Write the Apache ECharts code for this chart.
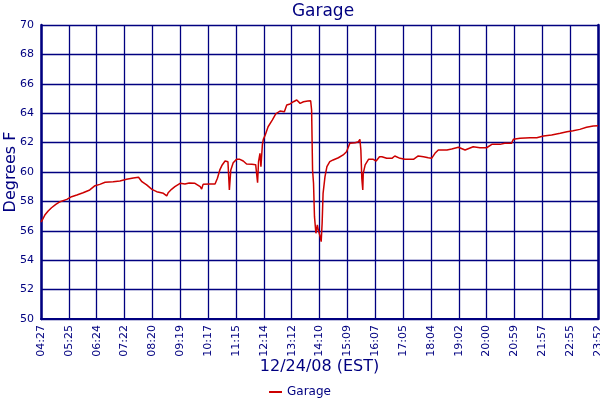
<!DOCTYPE html>
<html>
<head>
<meta charset="utf-8">
<script src="https://cdn.jsdelivr.net/npm/echarts@6/dist/echarts.min.js"></script>
<style>html,body{margin:0;padding:0;background:#fff}#c{width:600px;height:400px}</style>
</head>
<body>
<div id="c"></div>
<script>
// minutes since 04:27 on 12/24/08
const minutes = [0,3,8,15,22,31,40,54,64,75,88,102,113,123,134,151,165,179,193,204,211,221,232,242,256,263,266,273,280,291,301,310,322,333,336,339,353,364,369,374,379,385,388,391,394,397,402,409,416,423,430,441,449,451,453,455,458,460,463,465,469,475,484,491,500,509,514,521,528,535,542,549,558,564,566,568,570,572,575,578,580,584,586,588,590,594,598,604,611,622,632,639,646,657,664,667,669,671,673,674,678,685,695,701,708,713,723,734,740,751,761,779,789,800,810,817,824,831,849,859,873,887,904,918,932,943,960,970,984,988,1002,1023,1037,1051,1068,1086,1100,1113,1127,1141,1155,1165];
const garage = [56.6,56.75,57.07,57.35,57.57,57.8,57.98,58.14,58.32,58.44,58.59,58.78,59.07,59.16,59.3,59.34,59.39,59.5,59.59,59.64,59.34,59.12,58.82,58.66,58.55,58.37,58.59,58.82,59.0,59.23,59.18,59.25,59.23,59.0,58.84,59.16,59.18,59.18,59.57,60.14,60.48,60.75,60.86,60.7,58.78,60.14,60.63,60.86,60.86,60.75,60.54,60.52,60.5,60.63,59.27,60.7,61.27,60.36,61.84,62.22,62.52,63.08,63.54,63.95,64.15,64.1,64.56,64.63,64.78,64.9,64.67,64.78,64.83,64.85,64.22,60.14,59.23,56.96,55.83,56.4,56.05,55.6,55.26,56.51,58.55,59.68,60.36,60.7,60.82,60.97,61.16,61.38,61.95,61.99,62.06,62.22,61.5,59.57,58.78,59.91,60.48,60.86,60.86,60.75,61.04,61.04,60.93,60.93,61.09,60.93,60.86,60.86,61.09,61.04,60.97,60.93,61.27,61.5,61.5,61.56,61.68,61.5,61.72,61.65,61.65,61.88,61.88,61.95,61.95,62.22,62.29,62.33,62.33,62.45,62.52,62.63,62.74,62.81,62.9,63.04,63.13,63.15];
const tickLabels = ['04:27','05:25','06:24','07:22','08:20','09:19','10:17','11:15','12:14','13:12','14:10','15:09','16:07','17:05','18:04','19:02','20:00','20:59','21:57','22:55','23:52'];
const seriesName = 'Garage';
const titleText = 'Garage';
const xTitle = '12/24/08 (EST)';
const yTitle = 'Degrees F';

const navy = '#000080';
const font = 'Tahoma, "DejaVu Sans", sans-serif';
const step = 1165 / 20;
const chart = echarts.init(document.getElementById('c'), null, {renderer: 'canvas'});
chart.setOption({
  animation: false,
  backgroundColor: '#fff',
  title: {
    text: titleText, left: 318, top: -2, textAlign: 'center',
    textStyle: {color: navy, fontFamily: font, fontWeight: 'normal', fontSize: 17}
  },
  legend: {
    bottom: -3, left: 'center',
    icon: 'rect', itemWidth: 13, itemHeight: 2, itemGap: 6,
    textStyle: {color: navy, fontFamily: font, fontSize: 12},
    data: [seriesName]
  },
  grid: {left: 41, right: 2, top: 25, bottom: 81, containLabel: false, outerBoundsMode: 'none'},
  xAxis: {
    type: 'value', min: 0, max: 1165, interval: step,
    name: xTitle, nameLocation: 'middle', nameGap: 40, nameMoveOverlap: false,
    nameTextStyle: {color: navy, fontFamily: font, fontSize: 16},
    axisLine: {show: true, lineStyle: {color: navy, width: 2}},
    axisTick: {show: false},
    splitLine: {show: true, lineStyle: {color: navy, width: 1.3}},
    axisLabel: {
      rotate: 90, color: navy, fontFamily: font, fontSize: 11, margin: 6,
      showMinLabel: true, showMaxLabel: true, hideOverlap: false,
      formatter: v => tickLabels[Math.round(v / step)] || ''
    }
  },
  yAxis: [{
    type: 'value', min: 50, max: 70, interval: 2,
    name: yTitle, nameLocation: 'middle', nameGap: 22, nameMoveOverlap: false,
    nameTextStyle: {color: navy, fontFamily: font, fontSize: 16},
    axisLine: {show: true, lineStyle: {color: navy, width: 2.5}},
    axisTick: {show: false},
    splitLine: {show: true, lineStyle: {color: navy, width: 1.3}},
    axisLabel: {color: navy, fontFamily: font, fontSize: 11, margin: 7}
  }, {
    type: 'value', min: 50, max: 70, position: 'right',
    axisLine: {show: true, lineStyle: {color: navy, width: 2.5}},
    axisTick: {show: false}, axisLabel: {show: false}, splitLine: {show: false}
  }],
  series: [{
    name: seriesName, type: 'line',
    data: minutes.map((m, i) => [m, garage[i]]),
    showSymbol: false, symbol: 'none',
    lineStyle: {color: '#cc0000', width: 1.5},
    itemStyle: {color: '#cc0000'}
  }]
});
</script>
</body>
</html>
